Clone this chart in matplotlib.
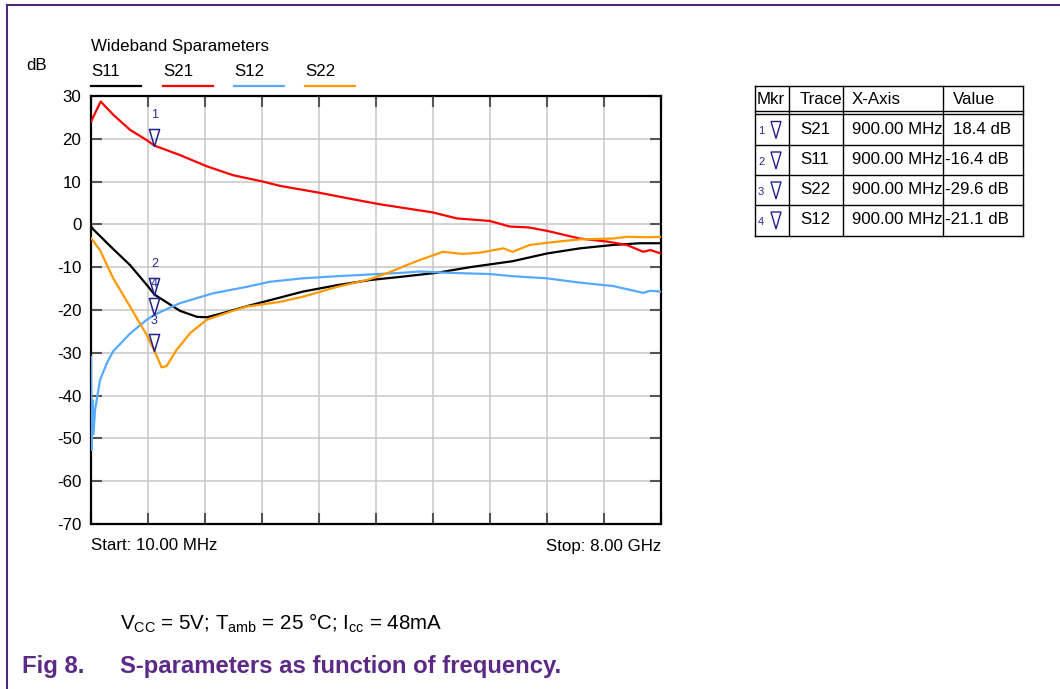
import matplotlib
matplotlib.use('Agg')
import matplotlib.pyplot as plt
from matplotlib.path import Path
from matplotlib.patches import Polygon
import numpy as np

plt.rcParams['font.family'] = ['Liberation Sans', 'DejaVu Sans']
plt.rcParams['axes.unicode_minus'] = False
plt.rcParams['mathtext.fontset'] = 'custom'
plt.rcParams['mathtext.rm'] = 'Liberation Sans'

# ---------------- data (frequency in GHz, value in dB) ----------------
s21_f = [0.01, 0.146, 0.323, 0.557, 0.79, 0.9, 1.257, 1.63, 2.0, 2.42, 2.66, 3.21, 3.64,
         4.06, 4.80, 5.14, 5.60, 5.88, 6.14, 6.40, 6.86, 7.24, 7.52, 7.75, 7.85, 8.0]
s21_v = [24.0, 28.7, 25.6, 22.1, 19.7, 18.4, 16.2, 13.6, 11.5, 10.0, 9.0, 7.4, 6.0,
         4.7, 2.8, 1.4, 0.8, -0.5, -0.7, -1.5, -3.3, -4.0, -4.8, -6.4, -6.0, -6.8]

s11_f = [0.01, 0.038, 0.318, 0.557, 0.795, 0.9, 1.258, 1.496, 1.636, 1.818, 2.197, 2.52,
         2.98, 3.46, 3.92, 4.38, 4.86, 5.32, 5.92, 6.40, 6.86, 7.33, 7.71, 8.0]
s11_v = [-0.4, -1.1, -5.7, -9.5, -14.2, -16.4, -20.2, -21.6, -21.7, -20.9, -19.1, -17.7,
         -15.7, -14.2, -13.0, -12.2, -11.3, -10.0, -8.6, -6.8, -5.6, -4.8, -4.4, -4.4]

s22_f = [0.01, 0.136, 0.318, 0.557, 0.79, 0.9, 1.0, 1.07, 1.21, 1.40, 1.63, 1.96, 2.19,
         2.66, 2.98, 3.46, 3.92, 4.16, 4.44, 4.62, 4.86, 4.94, 5.22, 5.46, 5.79, 5.92,
         6.16, 6.40, 6.86, 7.33, 7.52, 7.80, 8.0]
s22_v = [-3.2, -6.0, -12.5, -19.2, -25.8, -29.6, -33.4, -33.1, -29.3, -25.4, -22.3, -20.4, -19.2,
         -18.1, -16.9, -14.6, -12.8, -11.4, -9.5, -8.3, -6.9, -6.4, -6.9, -6.6, -5.6, -6.4,
         -4.8, -4.3, -3.5, -3.3, -2.9, -3.0, -2.9]

s12_f = [0.01, 0.02, 0.03, 0.045, 0.066, 0.136, 0.23, 0.318, 0.557, 0.79, 0.9, 1.257, 1.72,
         2.19, 2.52, 2.98, 3.46, 3.92, 4.38, 4.62, 5.0, 5.60, 5.92, 6.40, 6.86, 7.33, 7.75,
         7.85, 8.0]
s12_v = [-31.0, -52.7, -41.0, -49.0, -43.4, -36.4, -32.5, -29.7, -25.5, -22.3, -21.1, -18.4, -16.1,
         -14.6, -13.4, -12.6, -12.1, -11.7, -11.3, -11.0, -11.3, -11.6, -12.1, -12.6, -13.6, -14.4,
         -16.0, -15.5, -15.7]

trace_names = ['S11', 'S21', 'S12', 'S22']
trace_colors = ['#000000', '#ff0000', '#55aaff', '#ff9900']

mkr_ids = [1, 2, 3, 4]
mkr_traces = ['S21', 'S11', 'S22', 'S12']
mkr_freq = 0.9
mkr_freq_label = '900.00 MHz'
mkr_values = [18.4, -16.4, -29.6, -21.1]

y_ticks = [30, 20, 10, 0, -10, -20, -30, -40, -50, -60, -70]
f_start, f_stop = 0.01, 8.0

# ---------------- figure ----------------
W, H = 1060, 689
fig = plt.figure(figsize=(W / 100, H / 100), dpi=100)
FS = 12.2

def fx(px):
    return px / W

def fy(py):
    return 1 - py / H

ov = fig.add_axes([0, 0, 1, 1])
ov.set_xlim(0, W)
ov.set_ylim(H, 0)
ov.axis('off')
ov.set_zorder(0)

ax = fig.add_axes([fx(91), fy(524), fx(661) - fx(91), fy(96) - fy(524)])
ax.set_zorder(1)

series = {'S11': (s11_f, s11_v), 'S21': (s21_f, s21_v),
          'S12': (s12_f, s12_v), 'S22': (s22_f, s22_v)}
for name, col in zip(trace_names, trace_colors):
    f, v = series[name]
    ax.plot(f, v, color=col, lw=1.6, zorder=3, solid_joinstyle='round')

ax.set_xlim(f_start, f_stop)
ax.set_ylim(min(y_ticks), max(y_ticks))
ax.set_xticks(np.linspace(f_start, f_stop, 11))
ax.set_xticklabels([])
ax.set_yticks(y_ticks)
ax.set_yticklabels([str(t) for t in y_ticks], fontsize=FS)
ax.grid(True, color='#c8c8c8', lw=1.1)
ax.set_axisbelow(True)
ax.tick_params(direction='in', length=8, width=1.5, color='#555555',
               left=True, right=True, top=True, bottom=True, pad=7)
for s in ax.spines.values():
    s.set_color('black')
    s.set_linewidth(1.6)

# markers
tri = Path([(0, 0), (-0.3, 1), (0.3, 1), (0, 0)],
           [Path.MOVETO, Path.LINETO, Path.LINETO, Path.CLOSEPOLY])
for mid, val in zip(mkr_ids, mkr_values):
    ax.plot([mkr_freq], [val], marker=tri, ms=24.5, mfc='none', mec='#23238c',
            mew=1.1, ls='none', zorder=5, clip_on=False)
    ax.annotate(str(mid), xy=(mkr_freq, val), xytext=(0, 22), textcoords='offset points',
                ha='center', va='center', fontsize=9, color='#2828a0', zorder=6)

# texts around plot
ov.text(91, 47, 'Wideband Sparameters', fontsize=FS, ha='left', va='center')
ov.text(26, 66, 'dB', fontsize=FS, ha='left', va='center')
leg_x = [91, 163, 234, 305]
for x0, name, col in zip(leg_x, trace_names, trace_colors):
    ov.text(x0, 72, name, fontsize=FS, ha='left', va='center')
    ov.plot([x0, x0 + 50], [86, 86], color=col, lw=1.6)
ov.text(91, 546, 'Start: 10.00 MHz', fontsize=FS, ha='left', va='center')
ov.text(661, 546, 'Stop: 8.00 GHz', fontsize=FS, ha='right', va='center')

ov.text(120, 623, r'V$_{\mathrm{CC}}$ = 5V; T$_{\mathrm{amb}}$ = 25 °C; I$_{\mathrm{cc}}$ = 48mA',
        fontsize=14.8, ha='left', va='center')
purple = '#5b2a86'
ov.text(22, 667, 'Fig 8.', fontsize=17.2, fontweight='bold', color=purple, ha='left', va='center')
ov.text(120, 667, 'S-parameters as function of frequency.', fontsize=17.2, fontweight='bold',
        color=purple, ha='left', va='center')

# border
ov.plot([7, 7], [5, H], color='#4b2a7a', lw=1.5, clip_on=False)
ov.plot([7, W], [5, 5], color='#4b2a7a', lw=1.5, clip_on=False)

# marker table
tl, tr = 755, 1023
row_lines = [86, 145, 175, 205, 236]
cols = [755, 789, 843, 943, 1023]
for y in row_lines:
    ov.plot([tl, tr], [y, y], color='black', lw=1)
ov.plot([tl, tr], [111, 111], color='black', lw=1)
ov.plot([tl, tr], [114, 114], color='black', lw=1)
for x in cols:
    ov.plot([x, x], [86, 236], color='black', lw=1)
hdr = ['Mkr', 'Trace', 'X-Axis', 'Value']
hdr_x = [757, 800, 852, 953]
for x, t in zip(hdr_x, hdr):
    ov.text(x, 99, t, fontsize=FS, ha='left', va='center')
row_c = [129.5, 160, 190, 220]
for yc, mid, tr_name, val in zip(row_c, mkr_ids, mkr_traces, mkr_values):
    ov.text(758, yc + 2, str(mid), fontsize=8, color='#2828a0', ha='left', va='center')
    ov.add_patch(Polygon([(771, yc - 8), (781, yc - 8), (776, yc + 9)], closed=True,
                         fill=False, ec='#23238c', lw=1.0))
    ov.text(800, yc, tr_name, fontsize=FS, ha='left', va='center')
    ov.text(852, yc, mkr_freq_label, fontsize=FS, ha='left', va='center')
    vs = f'{val:.1f} dB'
    ov.text(953 if val >= 0 else 945, yc, vs, fontsize=FS, ha='left', va='center')

fig.savefig('out.png', dpi=100, facecolor='white')
